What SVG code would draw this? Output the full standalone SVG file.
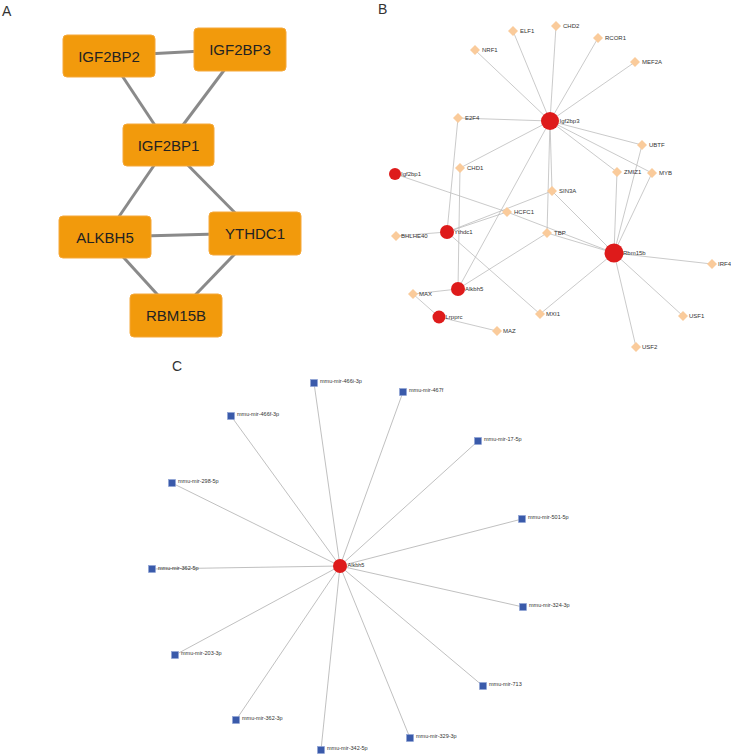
<svg xmlns="http://www.w3.org/2000/svg" width="731" height="756" viewBox="0 0 731 756">
<style>
.panel{font-family:"Liberation Sans",Arial,sans-serif;font-size:14px;fill:#333}
.box{fill:#F29A0C;stroke:#F5A83A;stroke-width:1}
.bt{font-family:"Liberation Sans",Arial,sans-serif;font-size:15px;fill:#222;text-anchor:middle;dominant-baseline:central}
.ea{stroke:#8a8a8a;stroke-width:3;fill:none}
.eb{stroke:#bdbdbd;stroke-width:0.8;fill:none}
.ec{stroke:#b0b0b0;stroke-width:0.8;fill:none}
.tf{fill:#FACB9B}
.hub{fill:#DE1B1B}
.mir{fill:#3A5AAA;stroke:#8fa3d6;stroke-width:0.6}
.lb{font-family:"Liberation Sans",Arial,sans-serif;font-size:6px;fill:#333}
.lc{font-family:"Liberation Sans",Arial,sans-serif;font-size:5.5px;fill:#333}
</style>
<rect width="731" height="756" fill="#fff"/>
<text class="panel" x="2" y="16">A</text>
<text class="panel" x="378" y="14">B</text>
<text class="panel" x="172" y="371">C</text>

<!-- Panel A connectors -->
<g id="edges-A">
<line class="ea" x1="109" y1="56" x2="240" y2="49"/>
<line class="ea" x1="109" y1="56" x2="168" y2="145"/>
<line class="ea" x1="240" y1="49" x2="168" y2="145"/>
<line class="ea" x1="168" y1="145" x2="105" y2="237"/>
<line class="ea" x1="168" y1="145" x2="255" y2="233"/>
<line class="ea" x1="105" y1="237" x2="255" y2="233"/>
<line class="ea" x1="105" y1="237" x2="176" y2="315"/>
<line class="ea" x1="255" y1="233" x2="176" y2="315"/>
</g>
<g id="A-IGF2BP2"><rect class="box" x="63" y="35" width="92" height="42" rx="4"/><text class="bt" x="109" y="56">IGF2BP2</text></g>
<g id="A-IGF2BP3"><rect class="box" x="194" y="28" width="92" height="43" rx="4"/><text class="bt" x="240" y="49.5">IGF2BP3</text></g>
<g id="A-IGF2BP1"><rect class="box" x="123" y="124" width="91" height="42" rx="4"/><text class="bt" x="168.5" y="145">IGF2BP1</text></g>
<g id="A-ALKBH5"><rect class="box" x="59" y="216" width="92" height="42" rx="4"/><text class="bt" x="105" y="237">ALKBH5</text></g>
<g id="A-YTHDC1"><rect class="box" x="209" y="212" width="92" height="43" rx="4"/><text class="bt" x="255" y="233.5">YTHDC1</text></g>
<g id="A-RBM15B"><rect class="box" x="130" y="294" width="92" height="43" rx="4"/><text class="bt" x="176" y="315.5">RBM15B</text></g>

<!-- Panel B connectors -->
<g id="edges-B">
<line class="eb" x1="550" y1="121" x2="475" y2="50"/>
<line class="eb" x1="550" y1="121" x2="513" y2="31"/>
<line class="eb" x1="550" y1="121" x2="556" y2="26"/>
<line class="eb" x1="550" y1="121" x2="598" y2="38"/>
<line class="eb" x1="550" y1="121" x2="635" y2="62"/>
<line class="eb" x1="550" y1="121" x2="458" y2="118"/>
<line class="eb" x1="550" y1="121" x2="642" y2="145"/>
<line class="eb" x1="550" y1="121" x2="617" y2="172"/>
<line class="eb" x1="550" y1="121" x2="652" y2="173"/>
<line class="eb" x1="550" y1="121" x2="552" y2="191"/>
<line class="eb" x1="550" y1="121" x2="547" y2="233"/>
<line class="eb" x1="550" y1="121" x2="460" y2="168"/>
<line class="eb" x1="550" y1="121" x2="458" y2="289"/>
<line class="eb" x1="614" y1="253" x2="642" y2="145"/>
<line class="eb" x1="614" y1="253" x2="617" y2="172"/>
<line class="eb" x1="614" y1="253" x2="652" y2="173"/>
<line class="eb" x1="614" y1="253" x2="552" y2="191"/>
<line class="eb" x1="614" y1="253" x2="547" y2="233"/>
<line class="eb" x1="614" y1="253" x2="507" y2="212"/>
<line class="eb" x1="614" y1="253" x2="712" y2="264"/>
<line class="eb" x1="614" y1="253" x2="683" y2="316"/>
<line class="eb" x1="614" y1="253" x2="636" y2="347"/>
<line class="eb" x1="614" y1="253" x2="540" y2="314"/>
<line class="eb" x1="447" y1="232" x2="458" y2="118"/>
<line class="eb" x1="447" y1="232" x2="396" y2="236"/>
<line class="eb" x1="447" y1="232" x2="507" y2="212"/>
<line class="eb" x1="447" y1="232" x2="552" y2="191"/>
<line class="eb" x1="447" y1="232" x2="540" y2="314"/>
<line class="eb" x1="395" y1="174" x2="507" y2="212"/>
<line class="eb" x1="458" y1="289" x2="460" y2="168"/>
<line class="eb" x1="458" y1="289" x2="547" y2="233"/>
<line class="eb" x1="458" y1="289" x2="413" y2="294"/>
<line class="eb" x1="439" y1="317" x2="413" y2="294"/>
<line class="eb" x1="439" y1="317" x2="497" y2="331"/>
</g>
<defs><path id="dm" d="M0,-5 L5,0 L0,5 L-5,0 Z"/></defs>
<g id="B-NRF1"><use href="#dm" class="tf" x="475" y="50"/><text class="lb" x="482" y="52">NRF1</text></g>
<g id="B-ELF1"><use href="#dm" class="tf" x="513" y="31"/><text class="lb" x="520" y="33">ELF1</text></g>
<g id="B-CHD2"><use href="#dm" class="tf" x="556" y="26"/><text class="lb" x="563" y="28">CHD2</text></g>
<g id="B-RCOR1"><use href="#dm" class="tf" x="598" y="38"/><text class="lb" x="605" y="40">RCOR1</text></g>
<g id="B-MEF2A"><use href="#dm" class="tf" x="635" y="62"/><text class="lb" x="642" y="64">MEF2A</text></g>
<g id="B-E2F4"><use href="#dm" class="tf" x="458" y="118"/><text class="lb" x="465" y="120">E2F4</text></g>
<g id="B-UBTF"><use href="#dm" class="tf" x="642" y="145"/><text class="lb" x="649" y="147">UBTF</text></g>
<g id="B-ZMIZ1"><use href="#dm" class="tf" x="617" y="172"/><text class="lb" x="624" y="174">ZMIZ1</text></g>
<g id="B-MYB"><use href="#dm" class="tf" x="652" y="173"/><text class="lb" x="659" y="175">MYB</text></g>
<g id="B-CHD1"><use href="#dm" class="tf" x="460" y="168"/><text class="lb" x="467" y="170">CHD1</text></g>
<g id="B-SIN3A"><use href="#dm" class="tf" x="552" y="191"/><text class="lb" x="559" y="193">SIN3A</text></g>
<g id="B-HCFC1"><use href="#dm" class="tf" x="507" y="212"/><text class="lb" x="514" y="214">HCFC1</text></g>
<g id="B-TBP"><use href="#dm" class="tf" x="547" y="233"/><text class="lb" x="554" y="235">TBP</text></g>
<g id="B-BHLHE40"><use href="#dm" class="tf" x="396" y="236"/><text class="lb" x="401" y="238">BHLHE40</text></g>
<g id="B-IRF4"><use href="#dm" class="tf" x="712" y="264"/><text class="lb" x="718" y="266">IRF4</text></g>
<g id="B-MAX"><use href="#dm" class="tf" x="413" y="294"/><text class="lb" x="419" y="296">MAX</text></g>
<g id="B-MXI1"><use href="#dm" class="tf" x="540" y="314"/><text class="lb" x="546" y="316">MXI1</text></g>
<g id="B-USF1"><use href="#dm" class="tf" x="683" y="316"/><text class="lb" x="689" y="318">USF1</text></g>
<g id="B-MAZ"><use href="#dm" class="tf" x="497" y="331"/><text class="lb" x="503" y="333">MAZ</text></g>
<g id="B-USF2"><use href="#dm" class="tf" x="636" y="347"/><text class="lb" x="642" y="349">USF2</text></g>
<g id="B-Igf2bp3"><circle class="hub" cx="550" cy="121" r="9"/><text class="lb" x="559.5" y="123">Igf2bp3</text></g>
<g id="B-Rbm15b"><circle class="hub" cx="614" cy="253" r="9.5"/><text class="lb" x="623" y="255">Rbm15b</text></g>
<g id="B-Igf2bp1"><circle class="hub" cx="395" cy="174" r="6"/><text class="lb" x="401" y="176">Igf2bp1</text></g>
<g id="B-Ythdc1"><circle class="hub" cx="447" cy="232" r="7"/><text class="lb" x="454" y="234">Ythdc1</text></g>
<g id="B-Alkbh5"><circle class="hub" cx="458" cy="289" r="7"/><text class="lb" x="465" y="291">Alkbh5</text></g>
<g id="B-Lrpprc"><circle class="hub" cx="439" cy="317" r="6.5"/><text class="lb" x="445.5" y="319">Lrpprc</text></g>

<!-- Panel C connectors -->
<g id="edges-C">
<line class="ec" x1="340" y1="566" x2="314" y2="383"/>
<line class="ec" x1="340" y1="566" x2="403" y2="392"/>
<line class="ec" x1="340" y1="566" x2="231" y2="416"/>
<line class="ec" x1="340" y1="566" x2="478" y2="441"/>
<line class="ec" x1="340" y1="566" x2="172" y2="483"/>
<line class="ec" x1="340" y1="566" x2="522" y2="519"/>
<line class="ec" x1="340" y1="566" x2="152" y2="569"/>
<line class="ec" x1="340" y1="566" x2="523" y2="607"/>
<line class="ec" x1="340" y1="566" x2="175" y2="655"/>
<line class="ec" x1="340" y1="566" x2="483" y2="686"/>
<line class="ec" x1="340" y1="566" x2="236" y2="720"/>
<line class="ec" x1="340" y1="566" x2="410" y2="738"/>
<line class="ec" x1="340" y1="566" x2="321" y2="750"/>
</g>
<defs><rect id="sq" x="-3.5" y="-3.5" width="7" height="7"/></defs>
<g id="C-466i"><use href="#sq" class="mir" x="314" y="383"/><text class="lc" x="320" y="383">mmu-mir-466i-3p</text></g>
<g id="C-467f"><use href="#sq" class="mir" x="403" y="392"/><text class="lc" x="409" y="392">mmu-mir-467f</text></g>
<g id="C-466f"><use href="#sq" class="mir" x="231" y="416"/><text class="lc" x="237" y="416">mmu-mir-466f-3p</text></g>
<g id="C-17"><use href="#sq" class="mir" x="478" y="441"/><text class="lc" x="484" y="441">mmu-mir-17-5p</text></g>
<g id="C-298"><use href="#sq" class="mir" x="172" y="483"/><text class="lc" x="178" y="483">mmu-mir-298-5p</text></g>
<g id="C-501"><use href="#sq" class="mir" x="522" y="519"/><text class="lc" x="528" y="519">mmu-mir-501-5p</text></g>
<g id="C-362-5p"><use href="#sq" class="mir" x="152" y="569"/><text class="lc" x="158" y="570">mmu-mir-362-5p</text></g>
<g id="C-324"><use href="#sq" class="mir" x="523" y="607"/><text class="lc" x="529" y="607">mmu-mir-324-3p</text></g>
<g id="C-203"><use href="#sq" class="mir" x="175" y="655"/><text class="lc" x="181" y="655">mmu-mir-203-3p</text></g>
<g id="C-713"><use href="#sq" class="mir" x="483" y="686"/><text class="lc" x="489" y="686">mmu-mir-713</text></g>
<g id="C-362-3p"><use href="#sq" class="mir" x="236" y="720"/><text class="lc" x="242" y="720">mmu-mir-362-3p</text></g>
<g id="C-329"><use href="#sq" class="mir" x="410" y="738"/><text class="lc" x="416" y="738">mmu-mir-329-3p</text></g>
<g id="C-342"><use href="#sq" class="mir" x="321" y="750"/><text class="lc" x="327" y="750">mmu-mir-342-5p</text></g>
<g id="C-Alkbh5"><circle class="hub" cx="340" cy="566" r="7"/><text class="lc" x="347.5" y="567">Alkbh5</text></g>
</svg>
